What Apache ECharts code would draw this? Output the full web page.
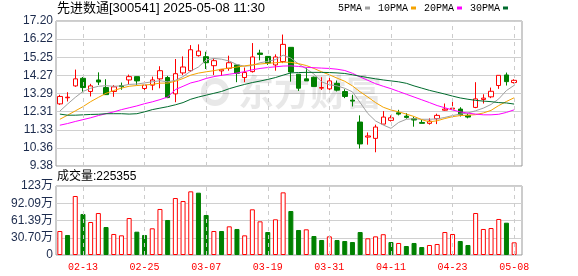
<!DOCTYPE html>
<html><head><meta charset="utf-8">
<script src="https://cdn.jsdelivr.net/npm/echarts@6/dist/echarts.min.js"></script>
<style>html,body{margin:0;padding:0;background:#fff}#c{width:578px;height:276px}</style>
</head><body><div id="c"></div>
<script>
const dates = ['02-10','02-11','02-12','02-13','02-14','02-17','02-18','02-19','02-20','02-21',
'02-24','02-25','02-26','02-27','02-28','03-03','03-04','03-05','03-06','03-07',
'03-10','03-11','03-12','03-13','03-14','03-17','03-18','03-19','03-20','03-21',
'03-24','03-25','03-26','03-27','03-28','03-31','04-01','04-02','04-03','04-07',
'04-08','04-09','04-10','04-11','04-14','04-15','04-16','04-17','04-18','04-21',
'04-22','04-23','04-24','04-25','04-28','04-29','04-30','05-06','05-07','05-08'];
const opens = [12.73,13.06,13.70,14.11,13.40,14.02,13.61,13.40,13.72,14.02,
14.20,13.56,13.74,14.08,14.15,13.27,14.40,14.52,15.33,15.275,
14.79,14.51,14.65,14.83,14.15,14.47,15.47,15.29,14.83,15.01,
15.78,14.33,14.08,14.166,13.58,13.54,13.84,13.395,12.93,11.75,
10.94,10.87,11.64,11.84,12.25,12.07,11.93,11.73,11.68,11.93,
12.39,12.45,12.45,12.11,12.54,12.97,13.11,13.72,14.29,13.88];
const closes = [13.13,13.09,14.08,13.61,13.70,13.91,13.23,13.65,13.66,14.20,
13.97,13.74,14.02,14.52,13.07,14.36,14.72,15.65,15.58,14.95,
15.06,14.59,14.95,14.38,14.42,15.26,15.40,14.93,15.26,15.94,
14.45,13.575,13.97,13.664,13.61,13.97,13.47,13.13,12.88,10.57,
11.00,11.48,12.02,11.98,12.18,12.00,11.86,11.68,11.80,12.11,
12.45,12.50,12.14,12.02,13.00,13.04,13.41,14.27,13.93,14.00];
const lows = [12.68,12.86,13.65,13.36,13.13,13.75,13.22,13.11,13.49,13.79,
13.75,13.38,13.47,13.57,13.04,12.82,14.29,14.45,15.28,14.61,
14.29,14.24,14.52,13.90,13.90,14.42,15.08,14.83,14.52,14.93,
13.93,13.43,13.97,13.66,13.48,13.29,13.40,13.04,12.59,10.32,
10.53,10.12,11.64,11.78,12.11,11.93,11.50,11.68,11.61,11.64,
12.36,12.43,12.05,11.95,12.50,12.75,13.04,13.54,13.72,13.83];
const highs = [13.22,13.36,14.58,14.18,13.81,14.43,14.06,13.74,13.88,14.31,
14.20,13.93,14.20,14.76,14.24,15.15,15.29,15.90,15.94,15.54,
15.19,14.59,15.33,14.86,14.69,16.01,15.65,15.29,15.40,16.47,
15.78,14.34,14.685,14.20,14.17,14.17,13.99,13.52,13.22,12.11,
11.19,11.61,12.34,12.11,12.41,12.23,12.04,11.86,11.95,12.20,
12.75,12.97,12.55,12.21,13.90,13.25,13.61,14.27,14.42,14.06];
const volumes = [427000,356000,1050000,730000,587000,747000,498000,374000,350000,658000,
415000,356000,475000,819000,623000,1014000,961000,1133000,1109000,712000,
427000,427000,510000,463000,350000,813000,599000,409000,635000,1115000,
783000,445000,457000,338000,267000,332000,267000,249000,231000,409000,
297000,332000,370000,231000,214000,160000,214000,142000,178000,196000,
409000,374000,249000,178000,747000,463000,480000,641000,575000,225355];
const ma5 = [12.34,12.72,13.08,13.40,13.57,13.68,13.71,13.68,13.70,13.78,
13.80,13.86,13.92,13.98,13.92,14.00,14.20,14.50,14.72,15.10,
15.18,15.14,15.04,14.85,14.76,14.80,14.95,15.02,15.12,15.36,
15.20,14.88,14.62,14.34,13.92,13.76,13.70,13.57,13.38,12.80,
12.21,11.81,11.59,11.41,11.73,11.90,11.93,11.90,11.90,11.92,
12.00,12.10,12.18,12.24,12.36,12.50,12.70,13.00,13.45,13.73];
const ma10 = [11.90,12.12,12.35,12.58,12.85,13.08,13.30,13.45,13.58,13.68,
13.72,13.75,13.78,13.85,13.85,13.95,14.10,14.28,14.39,14.46,
14.52,14.60,14.66,14.72,14.78,14.84,14.88,14.92,14.95,14.98,
14.97,14.90,14.80,14.64,14.46,14.30,14.12,13.95,13.70,13.38,
13.10,12.80,12.55,12.40,12.30,12.18,12.05,11.88,11.76,11.82,
11.94,12.04,12.10,12.12,12.15,12.24,12.38,12.64,12.86,13.06];
const ma20 = [11.58,11.67,11.78,11.88,11.98,12.10,12.20,12.30,12.42,12.52,
12.62,12.74,12.84,12.96,13.10,13.50,13.68,13.86,13.96,14.10,
14.20,14.27,14.33,14.39,14.47,14.57,14.64,14.69,14.73,14.77,
14.78,14.75,14.70,14.68,14.66,14.64,14.60,14.53,14.38,14.18,
14.00,13.82,13.68,13.55,13.40,13.25,13.10,12.95,12.80,12.64,
12.52,12.40,12.30,12.23,12.18,12.14,12.14,12.17,12.27,12.41];
const ma30 = [12.18,12.12,12.12,12.14,12.16,12.17,12.20,12.20,12.20,12.18,
12.20,12.30,12.42,12.50,12.58,12.68,12.80,12.98,13.10,13.20,
13.30,13.40,13.55,13.67,13.78,13.88,13.96,14.05,14.15,14.28,
14.40,14.42,14.43,14.43,14.43,14.42,14.40,14.37,14.30,14.22,
14.15,14.08,14.02,13.97,13.92,13.84,13.70,13.58,13.46,13.36,
13.26,13.15,13.05,12.98,12.92,12.88,12.85,12.80,12.78,12.72];
const priceTicks = ['9.38','10.36','11.33','12.31','13.29','14.27','15.25','16.22','17.20'];
const volTicks = ['0','30.70万','61.39万','92.09万','123万'];
const labelDates = ['02-13','02-25','03-07','03-19','03-31','04-11','04-23','05-08'];

const UP = '#ff0000', DOWN = '#008000';
const PMIN = 9.38, PMAX = 17.20, PINT = 0.9775;
const VMAX = 1227900, VINT = 306975;
const L = 56, W = 462, WF = 466, T1 = 21, H1 = 145, T2 = 186, H2 = 69;
const labelColor = '#1c2b4d';
const sans = '"Liberation Sans", Arial, "Noto Sans CJK SC", sans-serif';
const mono = '"Liberation Mono", "DejaVu Sans Mono", monospace';

const volData = volumes.map((v, i) => {
  const up = i === 0 ? closes[i] >= opens[i] : closes[i] >= closes[i - 1];
  return { value: v, itemStyle: up ? { color: '#fff', borderColor: UP, borderWidth: 1 } : { color: DOWN, borderColor: DOWN, borderWidth: 1 } };
});

const chart = echarts.init(document.getElementById('c'), null, { renderer: 'canvas' });
const hiddenCat = (gi) => ({ type: 'category', gridIndex: gi, data: dates, show: false, boundaryGap: true });
const dash = { type: [4, 4], color: '#cccccc', width: 1 };

chart.setOption({
  animation: false,
  backgroundColor: '#fff',
  grid: [
    { left: L, top: T1, width: WF, height: H1, show: true, borderColor: '#999', borderWidth: 1, backgroundColor: 'transparent' },
    { left: L, top: T1, width: W, height: H1 },
    { left: L, top: T2, width: WF, height: H2, show: true, borderColor: '#999', borderWidth: 1, backgroundColor: 'transparent' },
    { left: L, top: T2, width: W, height: H2 }
  ],
  xAxis: [
    hiddenCat(0), hiddenCat(1), hiddenCat(2),
    { type: 'category', gridIndex: 3, data: dates, boundaryGap: true,
      axisLine: { show: false }, axisTick: { show: false },
      axisLabel: { interval: (idx, val) => labelDates.includes(val), color: UP, fontFamily: mono, fontSize: 10, margin: 7 },
      splitLine: { show: false } }
  ],
  yAxis: [
    { type: 'value', gridIndex: 0, min: PMIN, max: PMAX, interval: PINT,
      axisLine: { show: false }, axisTick: { show: false },
      axisLabel: { formatter: v => priceTicks[Math.round((v - PMIN) / PINT)], color: labelColor, fontFamily: sans, fontSize: 12, margin: 3 },
      splitLine: { show: true, lineStyle: { color: '#d0d0d0', width: 1 } } },
    { type: 'value', gridIndex: 1, min: PMIN, max: PMAX, show: false, splitLine: { show: false } },
    { type: 'value', gridIndex: 2, min: 0, max: VMAX, interval: VINT,
      axisLine: { show: false }, axisTick: { show: false },
      axisLabel: { formatter: v => volTicks[Math.round(v / VINT)], color: labelColor, fontFamily: sans, fontSize: 12, margin: 3 },
      splitLine: { show: true, lineStyle: { color: '#d0d0d0', width: 1 } } },
    { type: 'value', gridIndex: 3, min: 0, max: VMAX, show: false, splitLine: { show: false } }
  ],
  legend: {
    data: ['5PMA', '10PMA', '20PMA', '30PMA'],
    left: 338, top: 3, padding: 0, itemGap: 8, align: 'right',
    icon: 'rect', itemWidth: 5, itemHeight: 3,
    textStyle: { fontFamily: mono, fontSize: 10, color: '#000', padding: [0, -2, 0, 0] }
  },
  graphic: [
    { type: 'text', left: 57, top: 2, style: { text: '先进数通[300541] 2025-05-08 11:30', fontFamily: sans, fontSize: 13, fill: '#000' } },
    { type: 'text', left: 57, top: 171, style: { text: '成交量:225355', fontFamily: sans, fontSize: 12, fill: '#000' } },
    { type: 'ring', shape: { cx: 215, cy: 92, r: 14, r0: 8 }, style: { fill: 'rgba(0,0,0,0.09)' }, z: 1, silent: true },
    { type: 'text', x: 238, y: 92, style: { text: '东方财富', fontFamily: '"Noto Sans CJK SC"', fontWeight: 'bold', fontSize: 36, fill: 'rgba(0,0,0,0.09)', verticalAlign: 'middle' }, z: 1, silent: true }
  ],
  series: [
    { type: 'line', xAxisIndex: 1, yAxisIndex: 1, data: [], z: 1, silent: true,
      markLine: { silent: true, symbol: ['none', 'none'], label: { show: false }, lineStyle: dash, data: labelDates.map(d => ({ xAxis: d })) } },
    { type: 'line', xAxisIndex: 3, yAxisIndex: 3, data: [], z: 1, silent: true,
      markLine: { silent: true, symbol: ['none', 'none'], label: { show: false }, lineStyle: dash, data: labelDates.map(d => ({ xAxis: d })) } },
    { type: 'candlestick', xAxisIndex: 1, yAxisIndex: 1, barWidth: 5,
      data: dates.map((d, i) => [opens[i], closes[i], lows[i], highs[i]]),
      itemStyle: { color: '#fff', color0: DOWN, borderColor: UP, borderColor0: DOWN, borderWidth: 1 } },
    { name: '5PMA', type: 'line', xAxisIndex: 1, yAxisIndex: 1, data: ma5, symbol: 'none', color: '#a0a0a0', lineStyle: { width: 1 }, z: 3 },
    { name: '10PMA', type: 'line', xAxisIndex: 1, yAxisIndex: 1, data: ma10, symbol: 'none', color: '#f5a300', lineStyle: { width: 1 }, z: 3 },
    { name: '20PMA', type: 'line', xAxisIndex: 1, yAxisIndex: 1, data: ma20, symbol: 'none', color: '#ff00ff', lineStyle: { width: 1 }, z: 3 },
    { name: '30PMA', type: 'line', xAxisIndex: 1, yAxisIndex: 1, data: ma30, symbol: 'none', color: '#006b2d', lineStyle: { width: 1 }, z: 3 },
    { type: 'bar', xAxisIndex: 3, yAxisIndex: 3, barWidth: 5, data: volData }
  ]
});
</script></body></html>
